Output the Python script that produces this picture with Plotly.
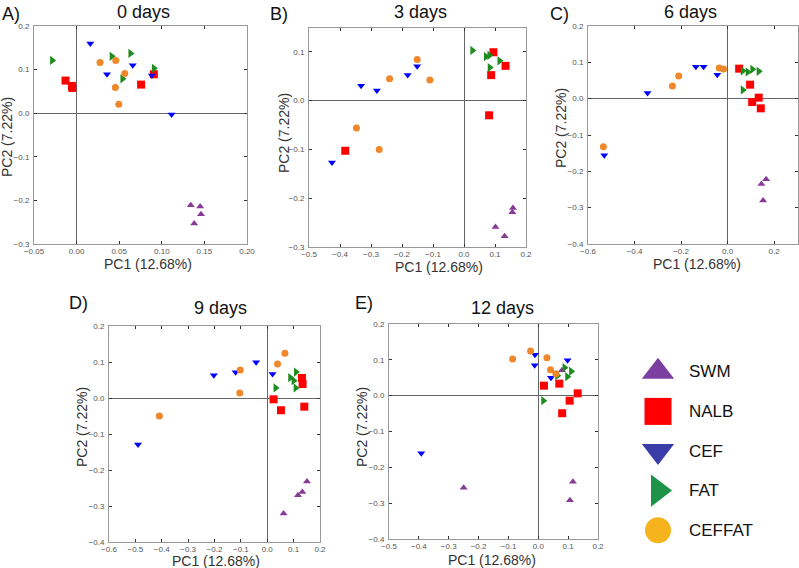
import plotly.graph_objects as go

groups = ["SWM", "NALB", "CEF", "FAT", "CEFFAT"]
panel_titles = ["0 days", "3 days", "6 days", "9 days", "12 days"]
panel_letters = ["A)", "B)", "C)", "D)", "E)"]
x_title = "PC1 (12.68%)"
y_title = "PC2 (7.22%)"

# PC1 / PC2 scores per panel and group
pc1_0 = {
    "SWM": [0.134, 0.145, 0.146, 0.138],
    "NALB": [-0.013, -0.0055, -0.005, 0.0757, 0.0907],
    "CEF": [0.0161, 0.0357, 0.0659, 0.0883, 0.1115],
    "FAT": [-0.0287, 0.0412, 0.0632, 0.0538, 0.0907],
    "CEFFAT": [0.0275, 0.046, 0.0565, 0.0455, 0.0495],
}
pc2_0 = {
    "SWM": [-0.211, -0.214, -0.232, -0.253],
    "NALB": [0.0748, 0.0626, 0.058, 0.0656, 0.0893],
    "CEF": [0.160, 0.0893, 0.110, 0.0863, -0.003],
    "FAT": [0.121, 0.1305, 0.137, 0.079, 0.103],
    "CEFFAT": [0.116, 0.121, 0.091, 0.0588, 0.0206],
}
pc1_3 = {
    "SWM": [0.1016, 0.131, 0.156, 0.158],
    "NALB": [0.095, 0.134, 0.0876, 0.081, -0.383],
    "CEF": [-0.332, -0.281, -0.1816, -0.151, -0.426],
    "FAT": [0.027, 0.071, 0.082, 0.1146, 0.083],
    "CEFFAT": [-0.151, -0.24, -0.110, -0.347, -0.2735],
}
pc2_3 = {
    "SWM": [-0.259, -0.278, -0.229, -0.220],
    "NALB": [0.0993, 0.0714, 0.0524, -0.030, -0.1027],
    "CEF": [0.0306, 0.021, 0.0524, 0.0707, -0.1265],
    "FAT": [0.103, 0.0905, 0.093, 0.0816, 0.068],
    "CEFFAT": [0.0844, 0.0449, 0.0422, -0.0558, -0.100],
}
pc1_6 = {
    "SWM": [0.1457, 0.166, 0.153],
    "NALB": [0.05, 0.097, 0.106, 0.134, 0.143],
    "CEF": [-0.53, -0.344, -0.136, -0.103, -0.044],
    "FAT": [0.0657, 0.087, 0.107, 0.134, 0.0657],
    "CEFFAT": [-0.534, -0.237, -0.21, -0.0357, -0.017],
}
pc2_6 = {
    "SWM": [-0.235, -0.222, -0.280],
    "NALB": [0.0826, 0.0385, -0.0092, 0.0028, -0.0266],
    "CEF": [-0.156, 0.0156, 0.088, 0.088, 0.066],
    "FAT": [0.0765, 0.0734, 0.0807, 0.0752, 0.0239],
    "CEFFAT": [-0.132, 0.0349, 0.0624, 0.0844, 0.0817],
}
pc1_9 = {
    "SWM": [0.062, 0.1165, 0.133, 0.1506],
    "NALB": [0.024, 0.052, 0.1316, 0.134, 0.1405],
    "CEF": [-0.49, -0.2025, -0.12, -0.042, 0.020],
    "FAT": [0.0316, 0.0873, 0.100, 0.1089, 0.1076],
    "CEFFAT": [-0.409, -0.1025, -0.104, 0.039, 0.067],
}
pc2_9 = {
    "SWM": [-0.321, -0.270, -0.261, -0.232],
    "NALB": [-0.0037, -0.034, 0.0556, 0.0389, -0.024],
    "CEF": [-0.129, 0.063, 0.0713, 0.099, 0.0667],
    "FAT": [0.0278, 0.0565, 0.048, 0.0722, 0.0278],
    "CEFFAT": [-0.05, 0.0778, 0.0139, 0.0944, 0.124],
}
pc1_12 = {
    "SWM": [-0.250, 0.0793, 0.116, 0.106],
    "NALB": [0.019, 0.0704, 0.132, 0.105, 0.080],
    "CEF": [-0.392, -0.011, -0.012, 0.0425, 0.098],
    "FAT": [0.0637, 0.088, 0.097, 0.11, 0.0168],
    "CEFFAT": [-0.086, -0.0257, 0.029, 0.041, 0.059],
}
pc2_12 = {
    "SWM": [-0.257, 0.0707, -0.240, -0.292],
    "NALB": [0.0279, 0.0335, 0.0065, -0.014, -0.049],
    "CEF": [-0.161, 0.1144, 0.0847, 0.050, 0.0986],
    "FAT": [0.0558, 0.078, 0.053, 0.068, -0.014],
    "CEFFAT": [0.1023, 0.1247, 0.106, 0.0726, 0.0614],
}

x_ranges = [[-0.05, 0.20], [-0.5, 0.2], [-0.6, 0.303], [-0.6, 0.2], [-0.5, 0.2]]
y_ranges = [[-0.3, 0.2], [-0.3, 0.149], [-0.4, 0.2], [-0.4, 0.2], [-0.4, 0.2]]
x_dticks = [0.05, 0.1, 0.2, 0.1, 0.1]
x_formats = [".2f", ".1f", ".1f", ".1f", ".1f"]

pc1_all = [pc1_0, pc1_3, pc1_6, pc1_9, pc1_12]
pc2_all = [pc2_0, pc2_3, pc2_6, pc2_9, pc2_12]

# ---- styling ----
W, H = 799, 568
boxes_px = [  # left, right, top, bottom in pixels
    (34, 247, 26, 244),
    (309, 526, 28, 247),
    (588, 798, 26, 244),
    (109, 320, 326, 542),
    (389, 598, 324, 539),
]
title_px = [(143, 12), (420, 12), (690, 12), (220, 308), (502, 308)]
letter_px = [(0, 14), (268, 14), (548, 14), (67, 303), (353, 303)]
xlab_px = [(148, 264), (439, 267), (697, 264), (216, 561), (492, 560)]
ylab_px = [(7, 137), (284, 133), (561, 128), (82, 427), (362, 427)]

symbols = {"SWM": "triangle-up", "NALB": "square", "CEF": "triangle-down",
           "FAT": "triangle-right", "CEFFAT": "circle"}
colors = {"SWM": "#873A96", "NALB": "#FF0000", "CEF": "#0000FF",
          "FAT": "#1E8C1E", "CEFFAT": "#F0882A"}
sizes = {"SWM": 7, "NALB": 8, "CEF": 7, "FAT": 8, "CEFFAT": 7}
legend_colors = {"SWM": "#7A3FA0", "NALB": "#FF0000", "CEF": "#3A3DA8",
                 "FAT": "#1E944A", "CEFFAT": "#F6B31C"}
legend_sizes = {"SWM": 28, "NALB": 27, "CEF": 28, "FAT": 28, "CEFFAT": 26}

fig = go.Figure()
layout = {}
annotations = []
FONT = "Liberation Sans, Arial, sans-serif"

for i in range(5):
    ax = "" if i == 0 else str(i + 1)
    l, r, t, b = boxes_px[i]
    layout["xaxis" + ax] = dict(
        domain=[l / W, r / W], anchor="y" + ax, range=x_ranges[i], automargin=False,
        dtick=x_dticks[i], tick0=0, tickformat=x_formats[i],
        ticks="inside", ticklen=3, tickcolor="#333", mirror="ticks",
        showline=True, linecolor="#999", linewidth=1, showgrid=False,
        zeroline=True, zerolinecolor="#666", zerolinewidth=1,
        tickfont=dict(size=8, color="#555", family=FONT), ticklabelstandoff=-1,
    )
    layout["yaxis" + ax] = dict(
        domain=[1 - b / H, 1 - t / H], anchor="x" + ax, range=y_ranges[i], automargin=False,
        dtick=0.1, tick0=0, tickformat=".1f",
        ticks="inside", ticklen=3, tickcolor="#333", mirror="ticks",
        showline=True, linecolor="#999", linewidth=1, showgrid=False,
        zeroline=True, zerolinecolor="#666", zerolinewidth=1,
        tickfont=dict(size=8, color="#555", family=FONT), ticklabelstandoff=2,
    )
    for g in groups:
        fig.add_trace(go.Scatter(
            x=pc1_all[i][g], y=pc2_all[i][g], mode="markers",
            xaxis="x" + ax, yaxis="y" + ax, showlegend=False, name=g,
            marker=dict(symbol=symbols[g], color=colors[g], size=sizes[g], line=dict(width=0)),
        ))
    tx, ty = title_px[i]
    annotations.append(dict(text=panel_titles[i], x=tx / W, y=1 - ty / H, xref="paper", yref="paper",
                            showarrow=False, xanchor="center", yanchor="middle",
                            font=dict(size=18, color="#111", family=FONT)))
    lx, ly = letter_px[i]
    annotations.append(dict(text=panel_letters[i], x=lx / W, y=1 - ly / H, xref="paper", yref="paper",
                            showarrow=False, xanchor="left", yanchor="middle",
                            font=dict(size=18, color="#111", family=FONT)))
    ax_x, ax_y = xlab_px[i]
    annotations.append(dict(text=x_title, x=ax_x / W, y=1 - ax_y / H, xref="paper", yref="paper",
                            showarrow=False, xanchor="center", yanchor="middle",
                            font=dict(size=14, color="#333", family=FONT)))
    ay_x, ay_y = ylab_px[i]
    annotations.append(dict(text=y_title, x=ay_x / W, y=1 - ay_y / H, xref="paper", yref="paper",
                            showarrow=False, xanchor="center", yanchor="middle", textangle=-90,
                            font=dict(size=14, color="#333", family=FONT)))

# legend drawn as its own hidden axis
legend_y = [1, 2, 3, 4, 5]
layout["xaxis6"] = dict(domain=[638 / W, 678 / W], range=[-1, 1], visible=False, anchor="y6")
layout["yaxis6"] = dict(domain=[1 - 550 / H, 1 - 352 / H], range=[5.5, 0.5], visible=False, anchor="x6")
for k, g in enumerate(groups):
    fig.add_trace(go.Scatter(
        x=[0], y=[legend_y[k]], mode="markers", xaxis="x6", yaxis="y6", showlegend=False,
        marker=dict(symbol=symbols[g], color=legend_colors[g], size=legend_sizes[g], line=dict(width=0)),
    ))
    annotations.append(dict(text=g, x=687 / W, y=legend_y[k], xref="paper", yref="y6",
                            showarrow=False, xanchor="left", yanchor="middle",
                            font=dict(size=17, color="#111", family=FONT)))

fig.update_layout(
    width=W, height=H, margin=dict(l=0, r=0, t=0, b=0),
    paper_bgcolor="white", plot_bgcolor="white",
    annotations=annotations, **layout,
)
fig.write_html("out.html", config={"displayModeBar": False},
               post_script="document.body.style.margin='0px';document.body.style.overflow='hidden';")
